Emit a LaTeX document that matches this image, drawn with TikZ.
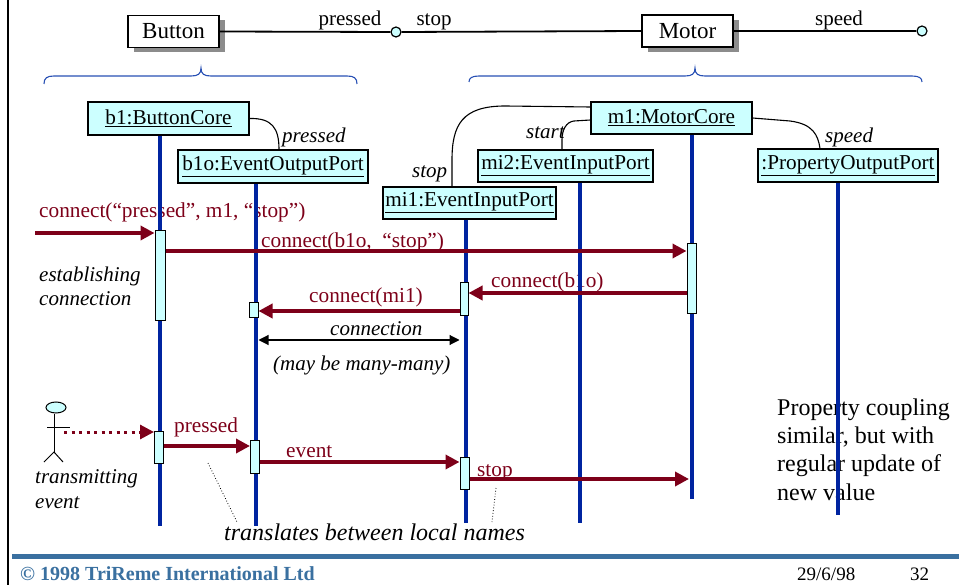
\documentclass[tikz,border=0pt]{standalone}
\usepackage{fontspec}
\setmainfont{Liberation Serif}
\usetikzlibrary{arrows.meta,calc,shadows,shapes.geometric}
\definecolor{cyanfill}{RGB}{204,255,255}
\definecolor{lifeblue}{RGB}{0,36,160}
\definecolor{msgred}{RGB}{125,0,25}
\definecolor{bracecol}{RGB}{40,80,180}
\definecolor{footblue}{RGB}{58,112,160}
\definecolor{shadowgray}{RGB}{140,140,140}
\begin{document}
\begin{tikzpicture}[x=1pt,y=-1pt,
 comp/.style={draw=black,line width=1.3pt,fill=white,minimum width=91pt,minimum height=32pt,inner sep=0pt,font=\fontsize{23}{27}\selectfont,drop shadow={shadow xshift=6pt,shadow yshift=-5pt,fill=shadowgray,opacity=1}},
 port/.style={circle,draw=black,line width=1.2pt,fill=cyanfill,minimum size=10pt,inner sep=0pt},
 wire/.style={draw=black,line width=1.8pt},
 obj/.style={draw=black,line width=1.2pt,fill=cyanfill,inner sep=0pt,font=\fontsize{21.2}{25}\selectfont},
 life/.style={draw=lifeblue,line width=4.5pt},
 act/.style={draw=black,line width=1pt,fill=cyanfill,inner sep=0pt,minimum width=9pt},
 msg/.style={draw=msgred,line width=4pt,-{Triangle[length=14pt,width=14pt]}},
 dotmsg/.style={draw=msgred,line width=3pt,dash pattern=on 3pt off 4.5pt,-{Triangle[length=14pt,width=14pt]}},
 conn/.style={draw=black,line width=1.1pt,{Triangle[length=10pt,width=10pt]}-{Triangle[length=10pt,width=10pt]}},
 lbl/.style={inner sep=0pt,text=msgred,font=\fontsize{21.3}{25}\selectfont},
 note/.style={inner sep=0pt,font=\fontsize{21}{25}\selectfont\itshape},
 plain/.style={inner sep=0pt,font=\fontsize{21}{25}\selectfont},
 big/.style={inner sep=0pt,font=\fontsize{24}{28}\selectfont},
 link/.style={draw=black,line width=1.1pt},
 brc/.style={draw=bracecol,line width=1.1pt},
 stick/.style={draw=black,line width=1pt},
]
\useasboundingbox (0,0) rectangle (959,585);

% page frame and footer
\coordinate (frameT) at (8,0);
\coordinate (frameB) at (8,585);
\draw[line width=2pt] (frameT) -- (frameB);
\coordinate (footL) at (12,556);
\coordinate (footR) at (959,556);
\draw[footblue,line width=5pt] (footL) -- (footR);
\node[anchor=base west,inner sep=0pt,text=footblue,font=\fontsize{20}{24}\selectfont\bfseries] (f1) at (20,580) {© 1998 TriReme International Ltd};
\node[anchor=base west,inner sep=0pt,font=\fontsize{19}{23}\selectfont] (f2) at (797,580) {29/6/98};
\node[anchor=base west,inner sep=0pt,font=\fontsize{19}{23}\selectfont] (f3) at (910,580) {32};

% component level
\node[comp] (btn) at (173.5,31.5) {Button};
\node[comp] (mot) at (687.5,31) {Motor};
\node[port] (p1) at (396,32) {};
\node[port] (p2) at (922,31) {};
\draw[wire] (btn.east) -- (p1.west);
\draw[wire] (p1.east) -- (mot.west);
\draw[wire] (mot.east) -- (p2.west);
\node[plain,anchor=base] (lp) at (350,26) {pressed};
\node[plain,anchor=base] (ls) at (434,26) {stop};
\node[plain,anchor=base] (lsp) at (839,26) {speed};

% braces
\draw[brc] (44,84) .. controls (44,78) and (47,76) .. (54,76) -- (191,76) .. controls (198,76) and (201,74) .. (201,68) .. controls (201,74) and (204,76) .. (211,76) -- (347,76) .. controls (354,76) and (357,78) .. (357,84);
\draw[brc] (469,82) .. controls (469,78) and (472,76) .. (479,76) -- (685,76) .. controls (692,76) and (695,74) .. (695,68) .. controls (695,74) and (698,76) .. (705,76) -- (912,76) .. controls (919,76) and (922,78) .. (922,82);

% notes drawn under lifelines
\node[lbl,anchor=base west] (t0) at (39,218) {connect(“pressed”, m1, “stop”)};
\node[lbl,anchor=base west] (t1) at (261,248) {connect(b1o,\ \ “stop”)};
\node[lbl,anchor=base west] (t2) at (491,288) {connect(b1o)};
\node[lbl,anchor=base west] (t3) at (309,303) {connect(mi1)};
\node[note,anchor=base west] (t4) at (330,336) {connection};
\node[note,anchor=base west] (t5) at (273,371) {(may be many-many)};
\node[note,anchor=base west] (t6) at (39,282) {establishing};
\node[note,anchor=base west] (t7) at (39,306) {connection};
\node[note,anchor=base west] (t8) at (35,483) {transmitting};
\node[note,anchor=base west] (t9) at (35,508) {event};
\node[lbl,anchor=base west] (t10) at (174,432) {pressed};
\node[lbl,anchor=base west] (t11) at (286,457) {event};
\node[lbl,anchor=base west] (t12) at (477,476) {stop};
\node[big,font=\fontsize{24}{28}\selectfont\itshape,anchor=base west] (t13) at (224,540) {translates between local names};
\node[big,anchor=base west] (t14) at (777,415) {Property coupling};
\node[big,anchor=base west] (t15) at (777,443) {similar, but with};
\node[big,anchor=base west] (t16) at (777,471) {regular update of};
\node[big,anchor=base west] (t17) at (777,500) {new value};

% objects
\node[obj,minimum width=161pt,minimum height=33pt] (b1) at (168.5,118.5) {\underline{b1:ButtonCore}};
\node[obj,minimum width=190pt,minimum height=33pt] (b1o) at (273,166.5) {\underline{b1o:EventOutputPort}};
\node[obj,minimum width=161pt,minimum height=32pt] (m1) at (671.5,118) {\underline{m1:MotorCore}};
\node[obj,minimum width=175pt,minimum height=32pt] (mi2) at (565.5,166) {\underline{mi2:EventInputPort}};
\node[obj,minimum width=173pt,minimum height=32pt] (mi1) at (469.5,203) {\underline{mi1:EventInputPort}};
\node[obj,minimum width=180pt,minimum height=33pt] (pop) at (848,165.5) {\underline{:PropertyOutputPort}};

% role links
\draw[link] (b1.east) .. controls (272,118) and (279,128) .. (b1o.north -| 279,0);
\draw[link] (m1.west |- 0,107) -- (505,106) .. controls (462,106) and (452,125) .. (452,160) -- (mi1.north -| 452,0);
\draw[link] (m1.west |- 0,120) -- (574,121) .. controls (566,122) and (562,130) .. (562,140) -- (mi2.north -| 562,0);
\draw[link] (m1.east) -- (790,121) .. controls (813,124) and (818,135) .. (pop.north -| 820,0);
\node[note,anchor=base west] (lpr) at (282,143) {pressed};
\node[note,anchor=base west] (lst) at (526,139) {start};
\node[note,anchor=base west] (lsto) at (412,178) {stop};
\node[note,anchor=base west] (lspe) at (825,143) {speed};

% lifelines
\coordinate (b1end) at (160,526);
\coordinate (b1oend) at (256,526);
\coordinate (mi1end) at (466,523);
\coordinate (mi2end) at (580,523);
\coordinate (m1end) at (692,499);
\coordinate (popend) at (838,515);
\draw[life] (b1.south -| b1end) -- (b1end);
\draw[life] (b1o.south -| b1oend) -- (b1oend);
\draw[life] (mi1.south -| mi1end) -- (mi1end);
\draw[life] (mi2.south -| mi2end) -- (mi2end);
\draw[life] (m1.south -| m1end) -- (m1end);
\draw[life] (pop.south -| popend) -- (popend);

% activations
\node[act,minimum width=10pt,minimum height=90pt] (a1) at (160,276) {};
\node[act,minimum height=15pt] (a2) at (253.5,310.5) {};
\node[act,minimum width=8pt,minimum height=33pt] (a3) at (464,299.5) {};
\node[act,minimum height=70pt] (a4) at (691.5,279) {};
\node[act,minimum height=32pt] (a5) at (159,447) {};
\node[act,minimum height=33pt] (a6) at (255,457) {};
\node[act,minimum height=32pt] (a7) at (464.5,473) {};

% messages
\coordinate (in0) at (35,233);
\draw[msg] (in0) -- (in0 -| a1.west);
\draw[msg] (a1.east |- 0,251) -- (a4.west |- 0,251);
\draw[msg] (a4.west |- 0,293) -- (a3.east |- 0,293);
\draw[msg] (a3.west |- 0,311) -- (a2.east |- 0,311);
\draw[conn] (a2.east |- 0,340) -- (a3.west |- 0,340);

% actor
\node[ellipse,draw=black,line width=1pt,fill=cyanfill,minimum width=20pt,minimum height=11pt,inner sep=0pt] (head) at (56,407.5) {};
\coordinate (hip) at (54,452);
\coordinate (armL) at (47,427);
\coordinate (armR) at (70,427);
\coordinate (legL) at (44,462);
\coordinate (legR) at (63,462);
\draw[stick] (head.south -| hip) -- (hip);
\draw[stick] (armL) -- (armR);
\draw[stick] (legL) -- (hip) -- (legR);
\coordinate (hand) at (64,432);
\draw[dotmsg] (hand) -- (hand -| a5.west);

\draw[msg] (a5.east |- 0,446) -- (a6.west |- 0,446);
\draw[msg] (a6.east |- 0,462) -- (a7.west |- 0,462);
\coordinate (stopend) at (689,479);
\draw[msg] (a7.east |- stopend) -- (stopend);

% pointer lines
\coordinate (d1a) at (208,463);
\coordinate (d1b) at (237,522);
\coordinate (d2a) at (496,488);
\coordinate (d2b) at (492,522);
\draw[black,line width=0.8pt,dotted] (d1a) -- (d1b);
\draw[black,line width=0.8pt,dotted] (d2a) -- (d2b);
\end{tikzpicture}
\end{document}
